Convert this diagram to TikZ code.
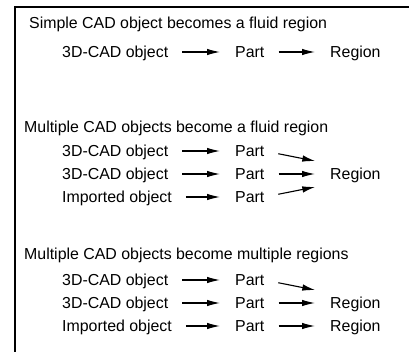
\documentclass[tikz,border=0pt]{standalone}
\usepackage{fontspec}
\setmainfont{Liberation Sans}
\usetikzlibrary{arrows.meta}

\begin{document}
\begin{tikzpicture}[
    x=1pt, y=-1pt,
    txt/.style={anchor=west, inner xsep=0pt, inner ysep=0pt, text height=11.4pt, text depth=0pt, font=\fontsize{15.9}{19}\selectfont},
    line/.style={-{Latex[length=13pt, width=6.5pt]}, line width=1.1pt, shorten <=14pt, shorten >=15pt}
]
    \useasboundingbox (0,0) rectangle (409,352);
    \draw[line width=1.3pt] (409,7) -| (15,352);

    \node[txt] (title1) at (29,23) {Simple CAD object becomes a fluid region};
    \node[txt] (cad1) at (62,52) {3D-CAD object};
    \node[txt] (part1) at (235,52) {Part};
    \node[txt] (region1) at (330,52) {Region};

    \draw[line] (cad1) -- (part1);
    \draw[line] (part1) -- (region1);

    \node[txt] (title2) at (24,127) {Multiple CAD objects become a fluid region};
    \node[txt] (cad21) at (62,151) {3D-CAD object};
    \node[txt] (cad22) at (62,174) {3D-CAD object};
    \node[txt] (imp23) at (62,197) {Imported object};
    \node[txt] (part21) at (235,151) {Part};
    \node[txt] (part22) at (235,174) {Part};
    \node[txt] (part23) at (235,197) {Part};
    \node[txt] (region2) at (330,174) {Region};

    \draw[line] (cad21) -- (part21);
    \draw[line] (cad22) -- (part22);
    \draw[line] (imp23) -- (part23);
    \draw[line] (part21.east) -- ([yshift=10pt]region2.west);
    \draw[line] (part22) -- (region2);
    \draw[line] (part23.east) -- ([yshift=-10pt]region2.west);

    \node[txt] (title3) at (24,254) {Multiple CAD objects become multiple regions};
    \node[txt] (cad31) at (62,280) {3D-CAD object};
    \node[txt] (cad32) at (62,303) {3D-CAD object};
    \node[txt] (imp33) at (62,326) {Imported object};
    \node[txt] (part31) at (235,280) {Part};
    \node[txt] (part32) at (235,303) {Part};
    \node[txt] (part33) at (235,326) {Part};
    \node[txt] (region32) at (330,303) {Region};
    \node[txt] (region33) at (330,326) {Region};

    \draw[line] (cad31) -- (part31);
    \draw[line] (cad32) -- (part32);
    \draw[line] (imp33) -- (part33);
    \draw[line] (part31.east) -- ([yshift=10pt]region32.west);
    \draw[line] (part32) -- (region32);
    \draw[line] (part33) -- (region33);
\end{tikzpicture}
\end{document}
